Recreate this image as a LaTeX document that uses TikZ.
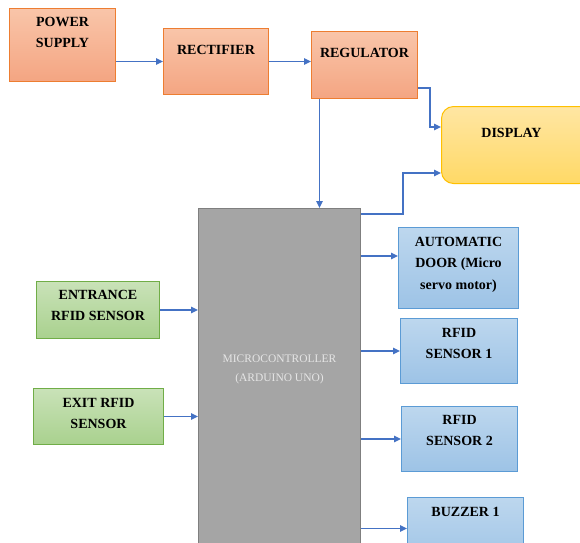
\documentclass[tikz,border=0pt]{standalone}
\usepackage{fontspec}
\setmainfont{Liberation Serif}
\usetikzlibrary{arrows.meta}
\definecolor{psLine}{HTML}{ED7D31}
\definecolor{psTop}{HTML}{F9C5A9}
\definecolor{psBot}{HTML}{F4A582}
\definecolor{inLine}{HTML}{70AD47}
\definecolor{inTop}{HTML}{C9E2B8}
\definecolor{inBot}{HTML}{A9D18E}
\definecolor{outLine}{HTML}{5B9BD5}
\definecolor{outTop}{HTML}{BDD7EE}
\definecolor{outBot}{HTML}{9DC3E6}
\definecolor{dispLine}{HTML}{FFC000}
\definecolor{dispTop}{HTML}{FFE6A3}
\definecolor{dispBot}{HTML}{FFD966}
\definecolor{mcuFill}{HTML}{A5A5A5}
\definecolor{mcuLine}{HTML}{7F7F7F}
\definecolor{wireBlue}{HTML}{4472C4}
\tikzset{
    >={Triangle[length=7pt,width=6.5pt]},
    unit/.style={line width=1pt, anchor=north west, inner sep=0pt},
    psbox/.style={unit, draw=psLine, top color=psTop, bottom color=psBot},
    inbox/.style={unit, draw=inLine, top color=inTop, bottom color=inBot},
    outbox/.style={unit, draw=outLine, top color=outTop, bottom color=outBot},
    dispbox/.style={unit, draw=dispLine, top color=dispTop, bottom color=dispBot, rounded corners=12pt},
    mcubox/.style={unit, draw=mcuLine, fill=mcuFill},
    boxtext/.style={anchor=north, inner sep=0pt, align=center, font=\fontsize{14}{21.5}\selectfont\bfseries, text=black},
    mcutext/.style={anchor=north, inner sep=0pt, align=center, font=\fontsize{11.5}{19}\selectfont, text=black!10},
    wire/.style={->, line width=1.3pt, draw=wireBlue}
}
\begin{document}
\begin{tikzpicture}[x=1pt,y=-1pt]
\useasboundingbox (0,0) rectangle (580,542);
\clip (0,0) rectangle (580,542);
% power path
\node[psbox, minimum width=106, minimum height=73, label={[boxtext, yshift=-9pt]north:POWER\\SUPPLY}] (supply) at (9,8) {};
\node[psbox, minimum width=105, minimum height=66, label={[boxtext, yshift=-17pt]north:RECTIFIER}] (rectifier) at (163,28) {};
\node[psbox, minimum width=106, minimum height=67, label={[boxtext, yshift=-17pt]north:REGULATOR}] (regulator) at (311,31) {};
\node[dispbox, minimum width=150, minimum height=77, label={[boxtext, yshift=-22pt, xshift=-5pt]north:DISPLAY}] (display) at (441,106) {};
% controller
\node[mcubox, minimum width=162, minimum height=360, label={[mcutext, yshift=-147pt]north:MICROCONTROLLER\\(ARDUINO UNO)}] (mcu) at (198,208) {};
% inputs
\node[inbox, minimum width=123, minimum height=57, label={[boxtext, yshift=-9pt]north:ENTRANCE\\RFID SENSOR}] (entrance) at (36,281) {};
\node[inbox, minimum width=130, minimum height=56, label={[boxtext, yshift=-10pt]north:EXIT RFID\\SENSOR}] (exit) at (33,388) {};
% outputs
\node[outbox, minimum width=120, minimum height=81, label={[boxtext, yshift=-10pt]north:AUTOMATIC\\DOOR (Micro\\servo motor)}] (door) at (398,227) {};
\node[outbox, minimum width=117, minimum height=65, label={[boxtext, yshift=-10pt]north:RFID\\SENSOR 1}] (rfid1) at (400,318) {};
\node[outbox, minimum width=116, minimum height=65, label={[boxtext, yshift=-9pt]north:RFID\\SENSOR 2}] (rfid2) at (401,406) {};
\node[outbox, minimum width=116, minimum height=70, label={[boxtext, yshift=-10pt]north:BUZZER 1}] (buzzer) at (407,497) {};
% connectors
\draw[wire] (supply.east |- rectifier.west) -- (rectifier.west);
\draw[wire] (rectifier.east) -- (regulator.west |- rectifier.east);
\draw[wire] ([xshift=-45pt]regulator.south) -- ([xshift=-45pt]regulator.south |- mcu.north);
\draw[wire] ([yshift=11pt]regulator.south east) -- ++(12,0) |- ([yshift=18pt]display.west);
\draw[wire] ([yshift=-6pt]mcu.north east) -- ++(42,0) |- ([yshift=-28pt]display.west);
\draw[wire] (entrance.east) -- (entrance.east -| mcu.west);
\draw[wire] (exit.east) -- (exit.east -| mcu.west);
\draw[wire] (mcu.east |- door.west) ++(0,-12) coordinate (doorin) -- (doorin -| door.west);
\draw[wire] (mcu.east |- rfid1.west) -- (rfid1.west);
\draw[wire] (mcu.east |- rfid2.west) -- (rfid2.west);
\draw[wire] ([yshift=4pt]mcu.east |- buzzer.west) -- ([yshift=4pt]buzzer.west);
\end{tikzpicture}
\end{document}
